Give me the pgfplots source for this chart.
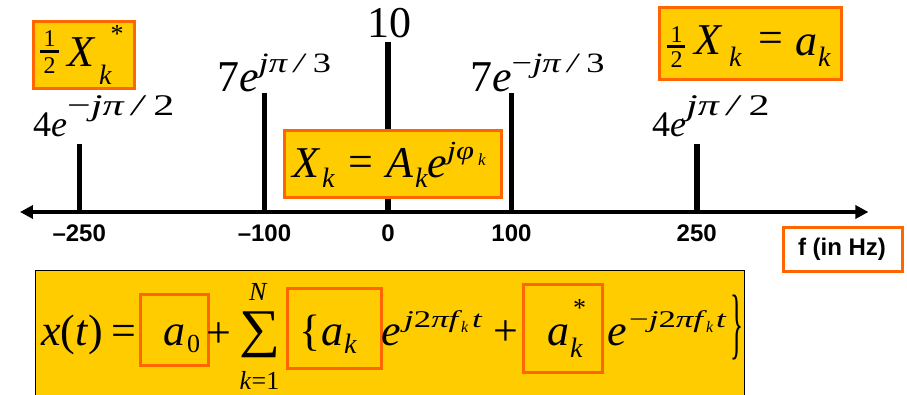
\documentclass[border=0pt]{standalone}
\usepackage{graphicx}
\usepackage{fontspec}
\setmainfont{Liberation Serif}
\newfontfamily\sansf{Liberation Sans}
\usepackage{pgfplots}
\pgfplotsset{compat=1.18}
\usetikzlibrary{arrows.meta}
\definecolor{gold}{RGB}{255,204,0}
\definecolor{orng}{RGB}{255,102,0}
\newcommand\fs[1]{\fontsize{#1}{#1}\selectfont}
\newcommand\up[4]{\raisebox{#1pt}{\scalebox{#2}[1]{\fs{#3}#4}}}
\newcommand\I[1]{\textit{#1}}
\begin{document}
\begin{tikzpicture}
\path[use as bounding box] (0pt,0pt) rectangle (907pt,-395pt);
\begin{axis}[
  x=1.235pt, y=17pt, anchor=origin, at={(388pt,-212pt)},
  xmin=-298, xmax=389, ymin=0, ymax=10,
  axis x line=bottom, axis y line=none,
  x axis line style={draw=none},
  clip=false,
  xtick={-250,-100,0,100,250},
  xticklabels={–250,–100,0,100,250},
  hide obscured x ticks=false,
  major tick length=0pt,
  xtick style={draw=none},
  xticklabel style={font=\sansf\bfseries\fs{24}, anchor=base, inner sep=0pt, yshift=-30pt},
]
\addplot[ycomb, line width=5.5pt, black] coordinates {(-250,4) (-100,7) (0,10) (100,7) (250,4)};
\draw[line width=3.5pt, {Triangle[length=13pt,width=13pt]}-{Triangle[length=13pt,width=13pt]}] (axis cs:-298,0) -- (axis cs:389,0);
\end{axis}
\begin{scope}[x=1pt,y=-1pt]
% amplitude labels
\node[anchor=base, inner sep=0] at (389,38) {\fs{44}10};
\node[anchor=base west, inner sep=0] at (217,92) {\fs{44}7\I{e}\up{19}{1.3}{28}{\I{jπ}\,\I{/}\,3}};
\node[anchor=base west, inner sep=0] at (470,92) {\fs{44}7\I{e}\up{19}{1.3}{28}{−\I{jπ}\,\I{/}\,3}};
\node[anchor=base west, inner sep=0] at (33,137) {\fs{36}4\I{e}\up{21}{1.4}{30}{−\I{jπ}\,\I{/}\,2}};
\node[anchor=base west, inner sep=0] at (652,137) {\fs{36}4\I{e}\up{21}{1.4}{30}{\I{jπ}\,\I{/}\,2}};
% Box A
\draw[orng, line width=3pt, fill=gold] (33,22) rectangle (134,89);
\node[inner sep=0] at (49.5,38.5) {\fs{24}1};
\draw[line width=2.5pt] (40,51.5) -- (59,51.5);
\node[inner sep=0] at (49.5,66) {\fs{24}2};
\node[anchor=base west, inner sep=0] at (67,67) {\fs{44}\I{X}};
\node[anchor=base west, inner sep=0] at (99,85) {\fs{28}\I{k}};
\node[inner sep=0] at (117,33.5) {\fs{26}*};
% Box C
\draw[orng, line width=3pt, fill=gold] (659,8) rectangle (841,80);
\node[inner sep=0] at (676.5,34.5) {\fs{24}1};
\draw[line width=2.5pt] (667,46.5) -- (685,46.5);
\node[inner sep=0] at (676.5,60) {\fs{24}2};
\node[anchor=base west, inner sep=0] at (694,55) {\fs{44}\I{X}};
\node[anchor=base west, inner sep=0] at (729,67) {\fs{28}\I{k}};
\node[inner sep=0] at (770.5,42) {\fs{44}=};
\node[anchor=base west, inner sep=0] at (795,56) {\fs{44}\I{a}};
\node[anchor=base west, inner sep=0] at (818,67) {\fs{28}\I{k}};
% Box B
\draw[orng, line width=3pt, fill=gold] (284,131) rectangle (501,198);
\node[anchor=base west, inner sep=0] at (292,178) {\fs{44}\I{X}};
\node[anchor=base west, inner sep=0] at (322,188) {\fs{28}\I{k}};
\node[inner sep=0] at (361,166) {\fs{44}=};
\node[anchor=base west, inner sep=0] at (386,178) {\fs{44}\I{A}};
\node[anchor=base west, inner sep=0] at (415,188) {\fs{28}\I{k}};
\node[anchor=base west, inner sep=0] at (427,178) {\fs{44}\I{e}};
\node[anchor=base west, inner sep=0] at (447,160) {\scalebox{1.25}[1]{\fs{26}\I{jφ}}};
\node[anchor=base west, inner sep=0] at (478,166) {\fs{17}\I{k}};
% f box
\draw[orng, line width=3pt, fill=white] (783,228) rectangle (902,272);
\node[inner sep=0] at (842,249) {\sansf\bfseries\fs{24}f (in Hz)};
% bottom formula
\draw[black, line width=1pt, fill=gold] (35,271) rectangle (744,400);
\draw[orng, line width=3pt] (140,294) rectangle (208,365);
\draw[orng, line width=3pt] (287,288) rectangle (381,368);
\draw[orng, line width=3pt] (523,284) rectangle (602,372);
\node[anchor=base west, inner sep=0] at (41,345) {\fs{44}\I{x}(\I{t})\hspace{8pt}=};
\node[anchor=base west, inner sep=0] at (163,345) {\fs{44}\I{a}};
\node[anchor=base west, inner sep=0] at (187,352) {\fs{26}0};
\node[inner sep=0] at (219,335) {\fs{44}+};
\node[inner sep=0] at (259.5,335) {\resizebox*{41pt}{46pt}{∑}};
\node[inner sep=0] at (258.5,291.5) {\fs{26}\I{N}};
\node[inner sep=0] at (259.5,380.5) {\fs{26}\I{k}=1};
\node[anchor=base west, inner sep=0] at (299,345) {\fs{44}\{};
\node[anchor=base west, inner sep=0] at (321,345) {\fs{44}\I{a}};
\node[anchor=base west, inner sep=0] at (344,353) {\fs{28}\I{k}};
\node[anchor=base west, inner sep=0] at (381,345) {\fs{44}\I{e}};
\node[anchor=base west, inner sep=0] at (404,327) {\scalebox{1.45}[1]{\fs{24}\I{j}2\I{πf}}};
\node[anchor=base west, inner sep=0] at (461,332) {\fs{16}\I{k}};
\node[anchor=base west, inner sep=0] at (472,327) {\scalebox{1.45}[1]{\fs{24}\I{t}}};
\node[inner sep=0] at (506,333) {\fs{44}+};
\node[anchor=base west, inner sep=0] at (547,345) {\fs{44}\I{a}};
\node[anchor=base west, inner sep=0] at (570,357) {\fs{28}\I{k}};
\node[inner sep=0] at (579.5,308) {\fs{26}*};
\node[anchor=base west, inner sep=0] at (607,345) {\fs{44}\I{e}};
\node[anchor=base west, inner sep=0] at (629,327) {\scalebox{1.45}[1]{\fs{24}−\I{j}2\I{πf}}};
\node[anchor=base west, inner sep=0] at (706,332) {\fs{16}\I{k}};
\node[anchor=base west, inner sep=0] at (716,327) {\scalebox{1.45}[1]{\fs{24}\I{t}}};
\node[inner sep=0] at (736.5,327.5) {\resizebox*{13pt}{65pt}{\fs{44}\}}};
\end{scope}
\end{tikzpicture}
\end{document}
